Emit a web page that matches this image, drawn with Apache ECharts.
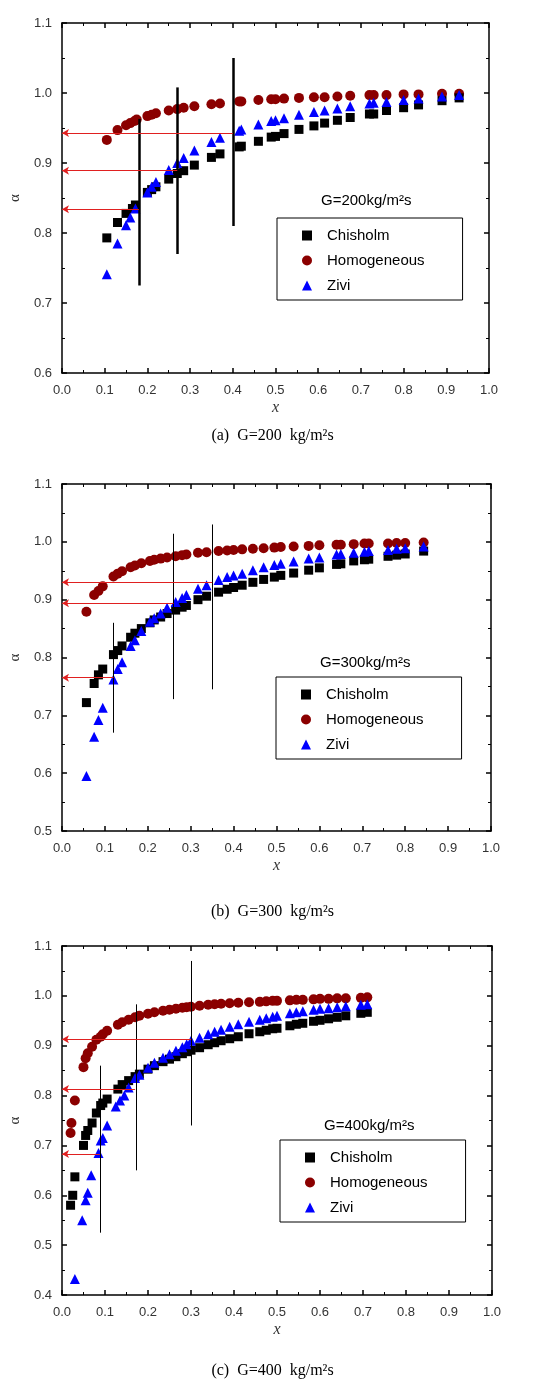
<!DOCTYPE html>
<html><head><meta charset="utf-8">
<script src="https://cdn.jsdelivr.net/npm/echarts@6/dist/echarts.min.js"></script>
<style>html,body{margin:0;padding:0;background:#fff}#c{width:545px;height:1389px}</style>
</head><body><div id="c"></div>
<script>
const chisholmA=[[0.105,0.793],[0.13,0.815],[0.15,0.828],[0.165,0.835],[0.172,0.84],[0.2,0.858],[0.21,0.862],[0.22,0.866],[0.25,0.877],[0.27,0.885],[0.285,0.889],[0.31,0.897],[0.35,0.908],[0.37,0.913],[0.415,0.923],[0.42,0.924],[0.46,0.931],[0.49,0.937],[0.5,0.938],[0.52,0.942],[0.555,0.948],[0.59,0.953],[0.615,0.957],[0.645,0.961],[0.675,0.965],[0.72,0.97],[0.73,0.97],[0.76,0.975],[0.8,0.979],[0.835,0.983],[0.89,0.989],[0.93,0.993]];
const homogA=[[0.105,0.933],[0.13,0.947],[0.15,0.954],[0.16,0.957],[0.17,0.96],[0.175,0.962],[0.2,0.967],[0.21,0.969],[0.22,0.971],[0.25,0.975],[0.27,0.977],[0.285,0.979],[0.31,0.981],[0.35,0.984],[0.37,0.985],[0.415,0.988],[0.42,0.988],[0.46,0.99],[0.49,0.991],[0.5,0.991],[0.52,0.992],[0.555,0.993],[0.59,0.994],[0.615,0.994],[0.645,0.995],[0.675,0.996],[0.72,0.997],[0.73,0.997],[0.76,0.997],[0.8,0.998],[0.835,0.998],[0.89,0.999],[0.93,0.999]];
const ziviA=[[0.105,0.741],[0.13,0.785],[0.15,0.811],[0.16,0.822],[0.172,0.835],[0.2,0.858],[0.21,0.866],[0.22,0.873],[0.25,0.89],[0.27,0.9],[0.285,0.907],[0.31,0.918],[0.35,0.93],[0.37,0.936],[0.415,0.946],[0.42,0.948],[0.46,0.955],[0.49,0.96],[0.5,0.961],[0.52,0.964],[0.555,0.969],[0.59,0.973],[0.615,0.975],[0.645,0.978],[0.675,0.981],[0.72,0.985],[0.73,0.986],[0.76,0.987],[0.8,0.99],[0.835,0.992],[0.89,0.995],[0.93,0.997]];
const vLinesA=[[0.18,0.725,0.963],[0.27,0.77,1.008],[0.40,0.81,1.05]];
const arrowsA=[[0.18,0.834],[0.27,0.889],[0.40,0.943]];

const chisholmB=[[0.057,0.722],[0.075,0.755],[0.085,0.77],[0.095,0.78],[0.12,0.805],[0.13,0.812],[0.14,0.82],[0.16,0.835],[0.17,0.842],[0.185,0.85],[0.205,0.86],[0.215,0.865],[0.23,0.87],[0.245,0.876],[0.265,0.882],[0.28,0.887],[0.29,0.89],[0.317,0.9],[0.337,0.906],[0.365,0.913],[0.385,0.918],[0.4,0.921],[0.42,0.925],[0.445,0.93],[0.47,0.935],[0.495,0.939],[0.51,0.942],[0.54,0.946],[0.575,0.951],[0.6,0.955],[0.64,0.961],[0.65,0.962],[0.68,0.967],[0.705,0.969],[0.715,0.97],[0.76,0.975],[0.78,0.977],[0.8,0.979],[0.843,0.984]];
const homogB=[[0.057,0.879],[0.075,0.908],[0.085,0.915],[0.095,0.923],[0.12,0.94],[0.13,0.945],[0.14,0.949],[0.16,0.956],[0.17,0.959],[0.185,0.963],[0.205,0.967],[0.215,0.969],[0.23,0.971],[0.245,0.973],[0.265,0.975],[0.28,0.977],[0.29,0.978],[0.317,0.981],[0.337,0.982],[0.365,0.984],[0.385,0.985],[0.4,0.986],[0.42,0.987],[0.445,0.988],[0.47,0.989],[0.495,0.99],[0.51,0.991],[0.54,0.992],[0.575,0.993],[0.6,0.994],[0.64,0.995],[0.65,0.995],[0.68,0.996],[0.705,0.997],[0.715,0.997],[0.76,0.997],[0.78,0.998],[0.8,0.998],[0.843,0.999]];
const ziviB=[[0.057,0.595],[0.075,0.663],[0.085,0.692],[0.095,0.713],[0.12,0.762],[0.13,0.78],[0.14,0.792],[0.16,0.82],[0.17,0.83],[0.185,0.846],[0.205,0.862],[0.215,0.868],[0.23,0.876],[0.245,0.886],[0.265,0.896],[0.28,0.903],[0.29,0.908],[0.317,0.919],[0.337,0.925],[0.365,0.934],[0.385,0.939],[0.4,0.942],[0.42,0.945],[0.445,0.951],[0.47,0.956],[0.495,0.96],[0.51,0.962],[0.54,0.966],[0.575,0.971],[0.6,0.973],[0.64,0.978],[0.65,0.979],[0.68,0.981],[0.705,0.983],[0.715,0.984],[0.76,0.986],[0.78,0.988],[0.8,0.989],[0.843,0.992]];
const vLinesB=[[0.12,0.67,0.86],[0.26,0.728,1.014],[0.35,0.745,1.03]];
const arrowsB=[[0.12,0.765],[0.26,0.894],[0.35,0.93]];

const chisholmC=[[0.02,0.58],[0.025,0.6],[0.03,0.637],[0.05,0.7],[0.055,0.72],[0.06,0.73],[0.07,0.745],[0.08,0.765],[0.09,0.78],[0.095,0.785],[0.105,0.793],[0.13,0.813],[0.14,0.822],[0.155,0.83],[0.17,0.838],[0.18,0.843],[0.2,0.853],[0.215,0.86],[0.235,0.868],[0.25,0.873],[0.265,0.878],[0.28,0.884],[0.29,0.888],[0.3,0.891],[0.32,0.896],[0.34,0.902],[0.355,0.906],[0.37,0.91],[0.39,0.914],[0.41,0.918],[0.435,0.924],[0.46,0.928],[0.475,0.931],[0.49,0.934],[0.5,0.935],[0.53,0.94],[0.545,0.943],[0.56,0.945],[0.585,0.949],[0.6,0.951],[0.62,0.954],[0.64,0.957],[0.66,0.96],[0.695,0.965],[0.71,0.967]];
const homogC=[[0.02,0.725],[0.022,0.745],[0.03,0.79],[0.05,0.857],[0.055,0.875],[0.06,0.885],[0.07,0.898],[0.08,0.912],[0.09,0.918],[0.095,0.923],[0.105,0.93],[0.13,0.942],[0.14,0.947],[0.155,0.952],[0.17,0.957],[0.18,0.96],[0.2,0.964],[0.215,0.967],[0.235,0.97],[0.25,0.972],[0.265,0.974],[0.28,0.976],[0.29,0.977],[0.3,0.978],[0.32,0.98],[0.34,0.982],[0.355,0.983],[0.37,0.984],[0.39,0.985],[0.41,0.986],[0.435,0.987],[0.46,0.988],[0.475,0.989],[0.49,0.99],[0.5,0.99],[0.53,0.991],[0.545,0.992],[0.56,0.992],[0.585,0.993],[0.6,0.994],[0.62,0.994],[0.64,0.995],[0.66,0.995],[0.695,0.996],[0.71,0.997]];
const ziviC=[[0.03,0.432],[0.047,0.55],[0.055,0.59],[0.06,0.605],[0.068,0.64],[0.085,0.685],[0.09,0.71],[0.095,0.715],[0.105,0.74],[0.125,0.778],[0.135,0.79],[0.145,0.8],[0.155,0.816],[0.17,0.835],[0.18,0.842],[0.2,0.856],[0.215,0.866],[0.235,0.876],[0.25,0.883],[0.265,0.89],[0.28,0.897],[0.29,0.903],[0.3,0.91],[0.32,0.916],[0.34,0.923],[0.355,0.928],[0.37,0.932],[0.39,0.938],[0.41,0.943],[0.435,0.948],[0.46,0.952],[0.475,0.955],[0.49,0.958],[0.5,0.96],[0.53,0.965],[0.545,0.967],[0.56,0.969],[0.585,0.972],[0.6,0.974],[0.62,0.975],[0.64,0.977],[0.66,0.979],[0.695,0.982],[0.71,0.983]];
const vLinesC=[[0.088,0.525,0.86],[0.172,0.65,0.983],[0.30,0.74,1.07]];
const arrowsC=[[0.088,0.683],[0.17,0.813],[0.30,0.913]];

const panels=[
 {ch:chisholmA,ho:homogA,zi:ziviA,vl:vLinesA,ar:arrowsA,ymin:0.6,grid:{left:54,width:435,top:23,height:350},lw:2.5,g:'200',cap:'(a)',capTop:423,gTop:188,legTop:218},
 {ch:chisholmB,ho:homogB,zi:ziviB,vl:vLinesB,ar:arrowsB,ymin:0.5,grid:{left:53,width:438,top:484,height:347},lw:1,g:'300',cap:'(b)',capTop:899,gTop:650,legTop:677},
 {ch:chisholmC,ho:homogC,zi:ziviC,vl:vLinesC,ar:arrowsC,ymin:0.4,grid:{left:57,width:435,top:946,height:349},lw:1,g:'400',cap:'(c)',capTop:1358,gTop:1113,legTop:1140}
];
const grids=[],xAxes=[],yAxes=[],series=[],legends=[],titles=[];
const lblFont={fontFamily:'Liberation Sans',fontSize:13,color:'#333'};
panels.forEach((p,i)=>{
 grids.push(p.grid);
 const baseX={type:'value',min:0,max:1,interval:0.1,gridIndex:i,splitLine:{show:false},
   axisLine:{show:true,onZero:false,lineStyle:{color:'#000',width:1.5}},
   axisTick:{show:true,inside:true,length:5,lineStyle:{color:'#000',width:1.5}},
   minorTick:{show:true,splitNumber:2,length:3,lineStyle:{color:'#000'}}};
 xAxes.push(Object.assign({},baseX,{position:'bottom',name:'x',nameLocation:'middle',nameGap:27,
   nameTextStyle:{fontFamily:'Liberation Serif',fontStyle:'italic',fontSize:16,color:'#333'},
   axisLabel:Object.assign({margin:11,formatter:v=>v.toFixed(1)},lblFont)}));
 xAxes.push(Object.assign({},baseX,{position:'top',axisLabel:{show:false}}));
 const baseY={type:'value',min:p.ymin,max:1.1,interval:0.1,gridIndex:i,splitLine:{show:false},
   axisLine:{show:true,onZero:false,lineStyle:{color:'#000',width:1.5}},
   axisTick:{show:true,inside:true,length:5,lineStyle:{color:'#000',width:1.5}},
   minorTick:{show:true,splitNumber:2,length:3,lineStyle:{color:'#000'}}};
 yAxes.push(Object.assign({},baseY,{position:'left',name:'α',nameLocation:'middle',nameGap:38,nameRotate:90,
   nameTextStyle:{fontFamily:'Liberation Serif',fontSize:15,color:'#333'},
   axisLabel:Object.assign({margin:10,formatter:v=>v.toFixed(1)},lblFont)}));
 yAxes.push(Object.assign({},baseY,{position:'right',axisLabel:{show:false}}));
 const xi=i*2,yi=i*2;
 const ml=[];
 p.vl.forEach(v=>ml.push([{coord:[v[0],v[1]],symbol:'none',lineStyle:{color:'#000',width:p.lw,type:'solid'}},{coord:[v[0],v[2]],symbol:'none'}]));
 p.ar.forEach(a=>ml.push([{coord:[a[0],a[1]],symbol:'none',lineStyle:{color:'#e02020',width:1.2,type:'solid'}},{coord:[0,a[1]],symbol:'arrow',symbolSize:[6,7]}]));
 series.push({type:'scatter',name:'Chisholm',xAxisIndex:xi,yAxisIndex:yi,data:p.ch,symbol:'rect',symbolSize:9,itemStyle:{color:'#000',opacity:1},z:3});
 series.push({type:'scatter',name:'Homogeneous',xAxisIndex:xi,yAxisIndex:yi,data:p.ho,symbol:'circle',symbolSize:10,itemStyle:{color:'#8b0000',opacity:1},z:2});
 series.push({type:'scatter',name:'Zivi',xAxisIndex:xi,yAxisIndex:yi,data:p.zi,symbol:'triangle',symbolSize:10,itemStyle:{color:'#0000ff',opacity:1},z:4,
   markLine:{silent:true,animation:false,label:{show:false},data:ml}});
 legends.push({data:[{name:'Chisholm',icon:'rect'},{name:'Homogeneous',icon:'circle'},{name:'Zivi',icon:'triangle'}],
   orient:'vertical',left:p.grid.left+223,top:p.legTop,width:170,itemWidth:10,itemHeight:10,itemGap:10,
   padding:[10,38,7,25],borderColor:'#000',borderWidth:1,borderRadius:0,selectedMode:false,
   textStyle:{fontFamily:'Liberation Sans',fontSize:15,color:'#000',padding:[0,0,0,10]}});
 titles.push({text:'G='+p.g+'kg/m²s',left:p.grid.left+262,top:p.gTop,textStyle:{fontFamily:'Liberation Sans',fontSize:15,fontWeight:'normal',color:'#000'}});
 titles.push({text:p.cap+'  G='+p.g+'  kg/m²s',left:'center',top:p.capTop,textStyle:{fontFamily:'Liberation Serif',fontSize:16,fontWeight:'normal',color:'#000'}});
});
const chart=echarts.init(document.getElementById('c'));
chart.setOption({animation:false,grid:grids,xAxis:xAxes,yAxis:yAxes,series:series,legend:legends,title:titles});
</script></body></html>
